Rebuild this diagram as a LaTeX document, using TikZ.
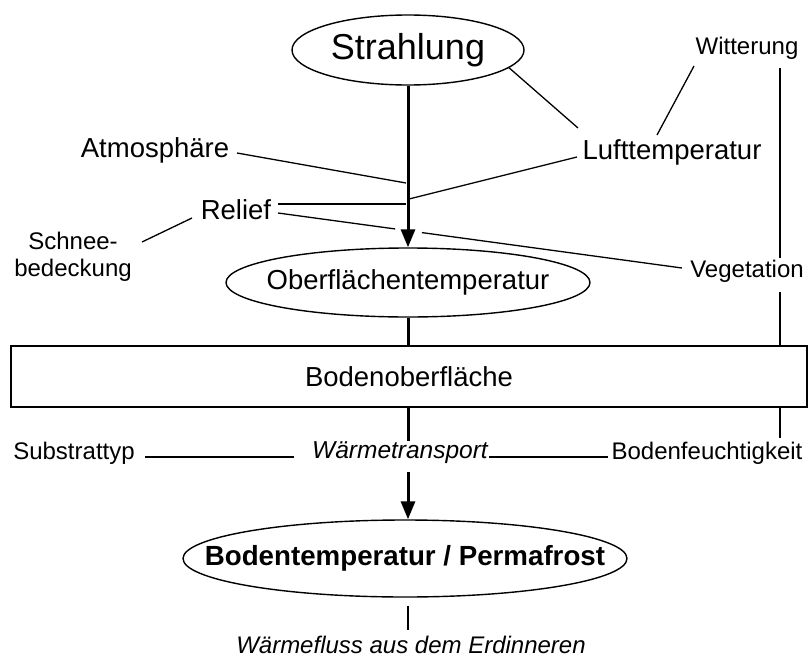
\documentclass[tikz,border=0pt]{standalone}
\usepackage{fontspec}
\setmainfont{Liberation Sans}
\usetikzlibrary{arrows.meta,shapes.geometric,calc}
\begin{document}
\begin{tikzpicture}[x=1pt,y=-1pt,
  thinline/.style={line width=1.3pt},
  thickline/.style={line width=3pt},
  thickarrow/.style={line width=3pt,-{Triangle[length=18pt,width=14pt]}},
  oval/.style={draw,ellipse,line width=1.4pt,inner sep=0pt},
  big/.style={font=\fontsize{27.5}{31}\selectfont,inner sep=0pt},
  small/.style={font=\fontsize{24}{27}\selectfont,inner sep=0pt},
]
\useasboundingbox (0,0) rectangle (809,659);

% main nodes (ellipse outline + text)
\node[oval,minimum width=232pt,minimum height=70pt] (str) at (408,50) {};
\node[font=\fontsize{36}{40}\selectfont,inner sep=0pt] (strT) at (str) {Strahlung};
\node[oval,minimum width=364pt,minimum height=69pt] (ober) at (408,282.5) {};
\node[big] (oberT) at (ober) {Oberflächentemperatur};
\node[draw,line width=1.8pt,minimum width=796pt,minimum height=61pt,inner sep=0pt,big] (box) at (409,376.5) {Bodenoberfläche};
\node[oval,minimum width=444pt,minimum height=77pt] (perm) at (405,558.5) {};
\node[font=\fontsize{27.7}{31}\selectfont\bfseries,inner sep=0pt] (permT) at (perm) {Bodentemperatur / Permafrost};

% labels
\node[small] (witt) at (747,48) {Witterung};
\node[big] (luft) at (672,152) {Lufttemperatur};
\node[big] (atm) at (155,150) {Atmosphäre};
\node[big] (rel) at (236,210) {Relief};
\node[small,align=center] (schnee) at (73,257) {Schnee-\\bedeckung};
\node[small] (veg) at (747,271) {Vegetation};
\node[small] (sub) at (74,453) {Substrattyp};
\node[small,font=\fontsize{24.5}{27}\selectfont\itshape] (wt) at (400,453) {Wärmetransport};
\node[small] (bf) at (707,453) {Bodenfeuchtigkeit};
\node[small,font=\fontsize{24}{27}\selectfont\itshape] (wf) at (411,645) {Wärmefluss aus dem Erdinneren};

% connector end points
\coordinate (jAtm) at (406,183);
\coordinate (jLuft) at (409,199);
\coordinate (jRel) at (406,204);
\coordinate (wittA) at (694,66);
\coordinate (luftA) at (657,135);
\coordinate (luftB) at (578,128);
\coordinate (luftC) at (577,157);
\coordinate (atmA) at (237,153);
\coordinate (relA) at (278,204);
\coordinate (relB) at (278,213);
\coordinate (relC) at (192,218);
\coordinate (schA) at (142,242);
\coordinate (vegA) at (682,268);
\coordinate (wittB) at (780,68);
\coordinate (vegB) at (780,258);
\coordinate (vegC) at (780,292);
\coordinate (bfA) at (780,438);
\coordinate (wtA) at (408,441);
\coordinate (wtB) at (408,472);
\coordinate (subA) at (145,457);
\coordinate (wtL) at (294,457);
\coordinate (wtR) at (489,457);
\coordinate (bfL) at (608,457);
\coordinate (wfA) at (408,630);

% thick flow
\draw[thickarrow] (str.south) -- (str.south |- ober.north);
\draw[thickline] (ober.south) -- (ober.south |- box.north);
\draw[thickline] (box.south -| wtA) -- (wtA);
\draw[thickarrow] (wtB) -- (wtB |- perm.north);
\draw[thinline] (perm.south -| wfA) ++(0,8) -- (wfA);

% thin connectors
\draw[thinline] (wittA) -- (luftA);
\draw[thinline] (str.-10) -- (luftB);
\draw[thinline] (luftC) -- (jLuft);
\draw[thinline] (atmA) -- (jAtm);
\draw[thinline] (relA) -- (jRel);
\draw[thinline] (relB) -- ($(relB)!0.29!(vegA)$);
\draw[thinline] ($(relB)!0.356!(vegA)$) -- (vegA);
\draw[thinline] (schA) -- (relC);
\draw[thinline] (wittB) -- (vegB);
\draw[thinline] (vegC) -- (vegC |- box.north);
\draw[thinline] (box.south -| bfA) -- (bfA);
\draw[thinline] (subA) -- (wtL);
\draw[thinline] (wtR) -- (bfL);
\end{tikzpicture}
\end{document}
